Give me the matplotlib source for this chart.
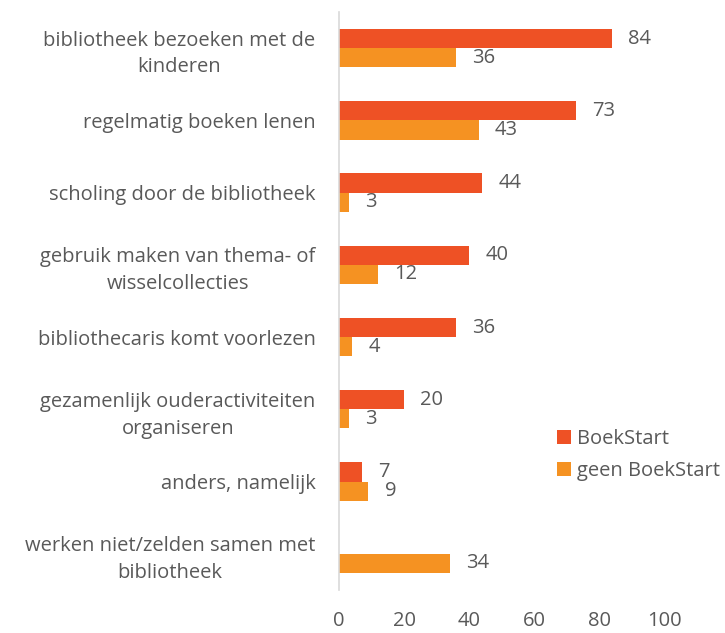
import matplotlib.pyplot as plt
import numpy as np

categories = [
    "bibliotheek bezoeken met de\nkinderen",
    "regelmatig boeken lenen",
    "scholing door de bibliotheek",
    "gebruik maken van thema- of\nwisselcollecties",
    "bibliothecaris komt voorlezen",
    "gezamenlijk ouderactiviteiten\norganiseren",
    "anders, namelijk",
    "werken niet/zelden samen met\nbibliotheek",
]
boekstart = [84, 73, 44, 40, 36, 20, 7, 0]
geen_boekstart = [36, 43, 3, 12, 4, 3, 9, 34]
xticks = [0, 20, 40, 60, 80, 100]

red = "#EE5125"
orange = "#F59222"
grey = "#595959"
fs = 14.5

plt.rcParams["font.family"] = ["Open Sans", "DejaVu Sans"]

fig = plt.figure(figsize=(7.25, 6.33), dpi=100)
ax = fig.add_axes([0.4676, 0.068, 0.4483, 0.913])

y = np.arange(len(categories))
h = 0.265
ax.barh(y - h / 2, boekstart, height=h, color=red, label="BoekStart")
ax.barh(y + h / 2, geen_boekstart, height=h, color=orange, label="geen BoekStart")

for yi, v in zip(y, boekstart):
    if v:
        ax.text(v + 5, yi - h / 2, str(v), va="center", ha="left", fontsize=fs, color=grey)
for yi, v in zip(y, geen_boekstart):
    if v:
        ax.text(v + 5, yi + h / 2, str(v), va="center", ha="left", fontsize=fs, color=grey)

ax.set_ylim(len(categories) - 0.5, -0.5)
ax.set_xlim(0, 100)
ax.set_yticks(y)
ax.set_yticklabels(categories, fontsize=fs, color=grey, multialignment="center",
                   linespacing=1.45)
ax.set_xticks(xticks)
ax.set_xticklabels([str(t) for t in xticks], fontsize=fs, color=grey)
ax.tick_params(axis="both", length=0)
ax.tick_params(axis="y", pad=17)
ax.tick_params(axis="x", pad=15)

for s in ["top", "right", "bottom"]:
    ax.spines[s].set_visible(False)
ax.spines["left"].set_color("#D9D9D9")
ax.spines["left"].set_linewidth(1.2)

leg = ax.legend(loc="upper left", bbox_to_anchor=(0.615, 0.31), frameon=False,
                fontsize=fs, handlelength=0.7, handleheight=0.7, handletextpad=0.3,
                labelspacing=0.6)
for t in leg.get_texts():
    t.set_color(grey)

fig.savefig("out.png", dpi=100)
